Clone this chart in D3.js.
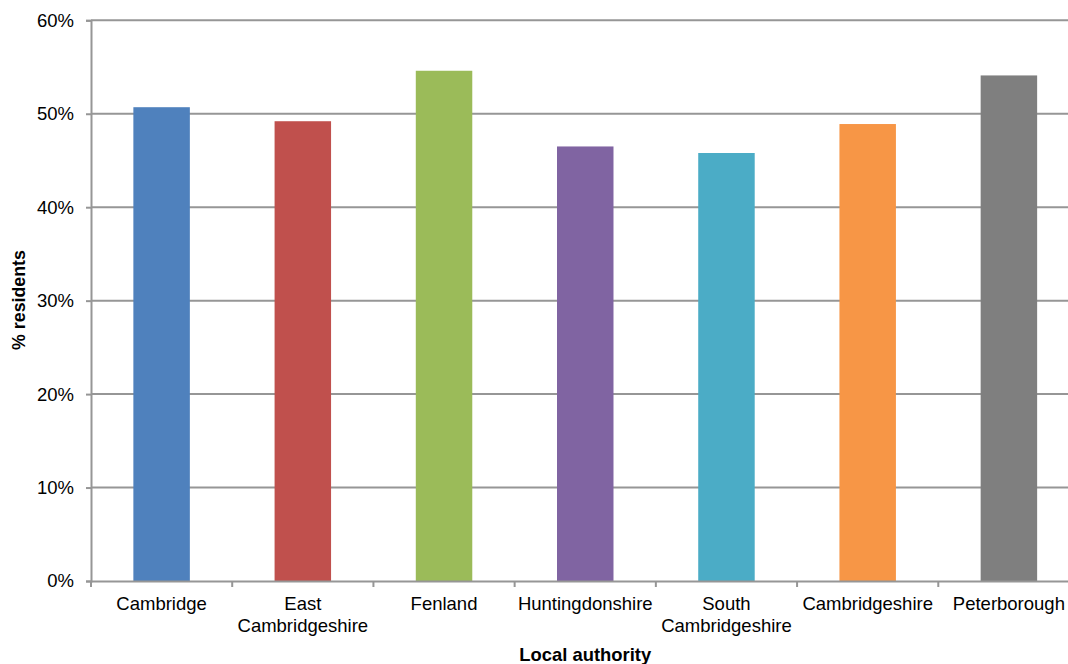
<!DOCTYPE html>
<html>
<head>
<meta charset="utf-8">
<script src="https://cdn.jsdelivr.net/npm/d3@7"></script>
<style>
html,body{margin:0;padding:0;background:#fff;overflow:hidden;}
svg{display:block;font-family:"Liberation Sans",Arial,sans-serif;}
</style>
</head>
<body>
<svg id="chart" width="1068" height="664"></svg>
<script>
const categories = [["Cambridge"],["East","Cambridgeshire"],["Fenland"],["Huntingdonshire"],["South","Cambridgeshire"],["Cambridgeshire"],["Peterborough"]];
const values = [50.7, 49.2, 54.6, 46.5, 45.8, 48.9, 54.1];
const colors = ["#4f81bd","#c0504d","#9bbb59","#8064a2","#4bacc6","#f79646","#7f7f7f"];
const yTicks = [0,10,20,30,40,50,60];
const yTitle = "% residents";
const xTitle = "Local authority";

(function(){
const svg = d3.select("#chart");
const mLeft = 91, mRight = 1079.5, mTop = 20.3, mBottom = 581;
const keys = categories.map((c,i)=>i);
const x = d3.scaleBand().domain(keys).range([mLeft,mRight]).paddingInner(0.6).paddingOuter(0.3);
const y = d3.scaleLinear().domain([0,60]).range([mBottom,mTop]);
const axisColor = "#969696";

// gridlines
svg.append("g").selectAll("line").data(yTicks.filter(d=>d>0)).join("line")
  .attr("x1",mLeft).attr("x2",mRight)
  .attr("y1",d=>y(d)).attr("y2",d=>y(d))
  .attr("stroke",axisColor).attr("stroke-width",2);

// bars
svg.append("g").selectAll("rect").data(values).join("rect")
  .attr("x",(d,i)=>x(i)).attr("width",x.bandwidth())
  .attr("y",d=>y(d)).attr("height",d=>y(0)-y(d))
  .attr("fill",(d,i)=>colors[i]);

// y axis
const yAxis = svg.append("g").attr("transform",`translate(${mLeft},0)`)
  .call(d3.axisLeft(y).tickValues(yTicks).tickFormat(d=>d+"%").tickSize(5).tickPadding(12));
yAxis.select(".domain").attr("stroke",axisColor).attr("stroke-width",2);
yAxis.selectAll(".tick line").attr("stroke",axisColor).attr("stroke-width",2);
yAxis.selectAll(".tick text").attr("font-size","18.5px").attr("fill","#000")
  .attr("font-family","Liberation Sans, Arial, sans-serif");

// x axis
const xAxis = svg.append("g").attr("transform",`translate(0,${mBottom})`)
  .call(d3.axisBottom(x).tickSize(0).tickFormat(""));
xAxis.select(".domain").attr("stroke",axisColor).attr("stroke-width",2);
xAxis.selectAll(".tick").remove();
// category boundary ticks
const step = x.step();
const bounds = d3.range(categories.length+1).map(i=>mLeft + i*step);
svg.append("g").selectAll("line").data(bounds).join("line")
  .attr("x1",d=>d).attr("x2",d=>d).attr("y1",mBottom).attr("y2",mBottom+6)
  .attr("stroke",axisColor).attr("stroke-width",2);

// category labels
const lab = svg.append("g").attr("font-size","18.5px").attr("fill","#000").attr("text-anchor","middle");
categories.forEach((lines,i)=>{
  const cx = x(i)+x.bandwidth()/2;
  const t = lab.append("text").attr("x",cx).attr("y",mBottom+29);
  lines.forEach((ln,j)=>{
    t.append("tspan").attr("x",cx).attr("dy", j===0?0:22).text(ln);
  });
});

// titles
svg.append("text").attr("transform",`translate(25,300) rotate(-90)`)
  .attr("text-anchor","middle").attr("font-weight","bold").attr("font-size","17.8px").text(yTitle);
svg.append("text").attr("x",(mLeft+mRight)/2).attr("y",661)
  .attr("text-anchor","middle").attr("font-weight","bold").attr("font-size","18.4px").text(xTitle);
})();
</script>
</body>
</html>
